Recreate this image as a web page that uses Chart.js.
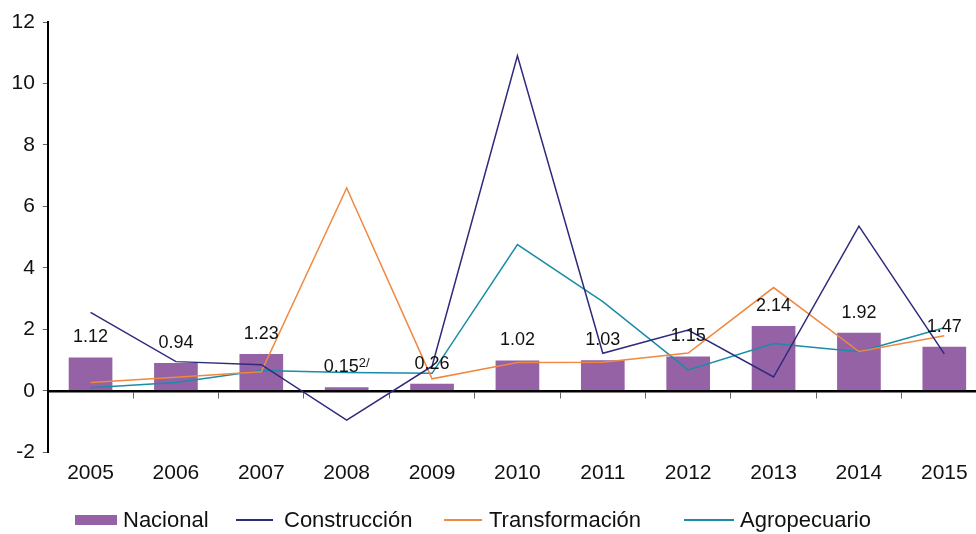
<!DOCTYPE html>
<html>
<head>
<meta charset="utf-8">
<script src="https://cdn.jsdelivr.net/npm/chart.js@4/dist/chart.umd.min.js"></script>
<style>
  html, body { margin: 0; padding: 0; background: #fff; overflow: hidden; width: 976px; height: 534px; }
  #wrap { position: relative; width: 987px; height: 534px; }
  #c { position: absolute; left: 0; top: 0; }
  .lg { position: absolute; top: 506px; height: 28px; display: flex; align-items: center;
        font-family: "Liberation Sans", Arial, Helvetica, sans-serif; font-size: 22px; color: #111; white-space: nowrap; }
  .sw { display: inline-block; margin-right: 6px; }
</style>
</head>
<body>
<div id="wrap">
  <canvas id="c" width="987" height="534"></canvas>
  <div class="lg" style="left:75px"><span class="sw" style="width:42px;height:10px;background:#9562A6"></span><span>Nacional</span></div>
  <div class="lg" style="left:236px"><span class="sw" style="width:37px;height:2px;background:#2E2A7C;margin-right:11px"></span><span>Construcción</span></div>
  <div class="lg" style="left:444px"><span class="sw" style="width:38px;height:2px;background:#F0883F;margin-right:7px"></span><span>Transformación</span></div>
  <div class="lg" style="left:684px"><span class="sw" style="width:50px;height:2px;background:#1A8CA6;margin-right:6px"></span><span>Agropecuario</span></div>
</div>
<script>
const categories = ['2005','2006','2007','2008','2009','2010','2011','2012','2013','2014','2015'];
const nacional = [1.12, 0.94, 1.23, 0.15, 0.26, 1.02, 1.03, 1.15, 2.14, 1.92, 1.47];
const construccion = [2.55, 0.95, 0.85, -0.95, 0.8, 10.9, 1.22, 1.98, 0.45, 5.36, 1.2];
const transformacion = [0.27, 0.44, 0.62, 6.6, 0.39, 0.92, 0.93, 1.23, 3.36, 1.28, 1.79];
const agropecuario = [0.1, 0.27, 0.66, 0.6, 0.57, 4.76, 2.9, 0.68, 1.54, 1.27, 2.05];
const nacionalLabels = ['1.12','0.94','1.23','0.15','0.26','1.02','1.03','1.15','2.14','1.92','1.47'];
const labelNotes = ['','','','2/','','','','','','',''];
const yTicks = [-2, 0, 2, 4, 6, 8, 10, 12];

const FONT = '"Liberation Sans", Arial, Helvetica, sans-serif';

const barLabels = {
  id: 'barLabels',
  afterDatasetsDraw(chart) {
    const meta = chart.getDatasetMeta(0);
    const ctx = chart.ctx;
    ctx.save();
    ctx.fillStyle = '#111';
    ctx.textBaseline = 'alphabetic';
    ctx.textAlign = 'left';
    meta.data.forEach((el, i) => {
      const main = nacionalLabels[i];
      const note = labelNotes[i];
      ctx.font = '18px ' + FONT;
      const w1 = ctx.measureText(main).width;
      ctx.font = '13px ' + FONT;
      const w2 = note ? ctx.measureText(note).width : 0;
      const x0 = el.x - (w1 + w2) / 2;
      const yb = el.y - 14;
      ctx.font = '18px ' + FONT;
      ctx.fillText(main, x0, yb);
      if (note) {
        ctx.font = '13px ' + FONT;
        ctx.fillText(note, x0 + w1, yb - 5.5);
      }
    });
    ctx.restore();
  }
};

new Chart(document.getElementById('c'), {
  type: 'bar',
  data: {
    labels: categories,
    datasets: [
      { label: 'Nacional', data: nacional, backgroundColor: '#9562A6', borderColor: 'rgba(255,255,255,0.6)', borderWidth: 1,
        barPercentage: 0.535, categoryPercentage: 1, order: 4, xAxisID: 'x', yAxisID: 'y' },
      { type: 'line', label: 'Construcción', data: construccion, borderColor: '#2E2A7C', borderWidth: 1.5,
        pointRadius: 0, tension: 0, fill: false, order: 1, xAxisID: 'x', yAxisID: 'y' },
      { type: 'line', label: 'Transformación', data: transformacion, borderColor: '#F0883F', borderWidth: 1.5,
        pointRadius: 0, tension: 0, fill: false, order: 2, xAxisID: 'x', yAxisID: 'y' },
      { type: 'line', label: 'Agropecuario', data: agropecuario, borderColor: '#1A8CA6', borderWidth: 1.5,
        pointRadius: 0, tension: 0, fill: false, order: 3, xAxisID: 'x', yAxisID: 'y' }
    ]
  },
  options: {
    responsive: false,
    animation: false,
    layout: { padding: { left: 3.5, top: 22, right: 0, bottom: 48.5 } },
    plugins: { legend: { display: false }, tooltip: { enabled: false } },
    scales: {
      x: {
        type: 'category',
        position: { y: 0 },
        offset: true,
        grid: { display: true, drawOnChartArea: false, drawTicks: true, tickLength: 6, color: '#666', offset: true },
        border: { display: true, color: '#000', width: 2.5 },
        ticks: { display: false }
      },
      x2: {
        type: 'category',
        labels: categories,
        position: 'bottom',
        offset: true,
        grid: { display: false },
        border: { display: false },
        ticks: { color: '#111', font: { family: FONT, size: 21 }, padding: 0, maxRotation: 0, autoSkip: false }
      },
      y: {
        position: 'left',
        min: yTicks[0],
        max: yTicks[yTicks.length - 1],
        afterBuildTicks: (axis) => { axis.ticks = yTicks.map(v => ({ value: v })); },
        grid: { display: true, drawOnChartArea: false, drawTicks: true, tickLength: 5, color: '#666' },
        border: { display: true, color: '#000', width: 2 },
        ticks: { color: '#111', font: { family: FONT, size: 21 }, padding: 8 }
      }
    }
  },
  plugins: [barLabels]
});
</script>
</body>
</html>
